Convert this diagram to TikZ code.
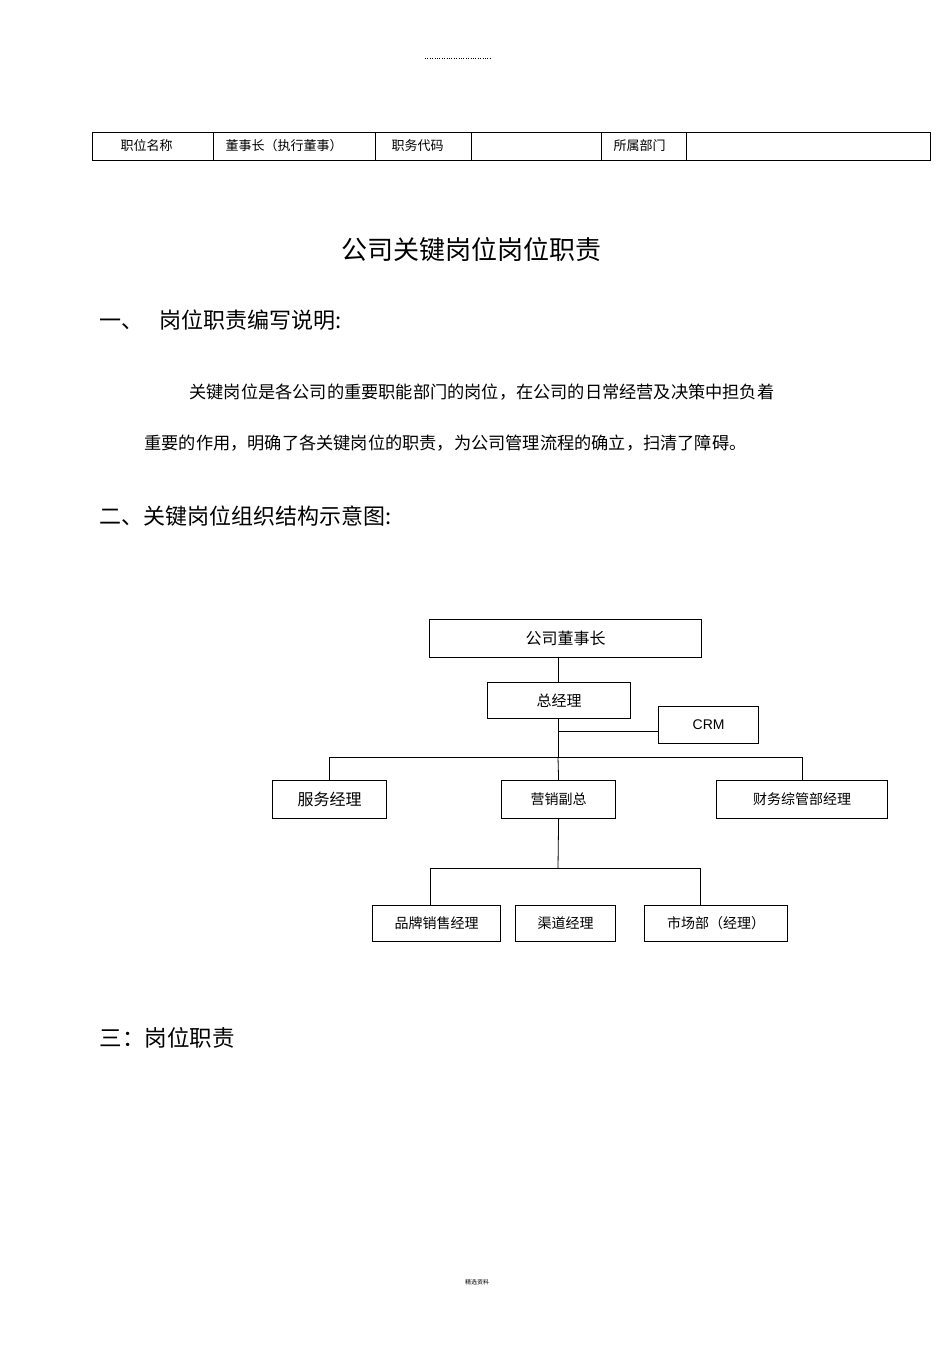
\documentclass[tikz,border=0pt]{standalone}
\usepackage{fontspec}
\setmainfont{Liberation Sans}
\newfontfamily\cjk{Noto Sans CJK SC}
\begin{document}
\begin{tikzpicture}[x=1pt,y=-1pt,
  box/.style={draw,line width=1.2pt,inner sep=0pt,anchor=north west,font=\cjk\fontsize{15}{15}\selectfont},
  ln/.style={line width=0.8pt},
  cell/.style={anchor=west,font=\cjk\fontsize{13}{13}\selectfont}]
\useasboundingbox[fill=white] (0,0) rectangle (950,1345);
\draw[dotted,line width=0.4pt] (425,58) -- (490,58);
% table
\draw[line width=0.8pt] (92,132) rectangle (930,160);
\foreach \x in {213,375,471,601,686} \draw[line width=0.8pt] (\x,132) -- (\x,160);
\node[cell] (t1) at (117,146) {职位名称};
\node[cell] (t2) at (222,146) {董事长（执行董事）};
\node[cell] (t3) at (388,146) {职务代码};
\node[cell] (t4) at (610,146) {所属部门};
\node[font=\cjk\fontsize{26}{26}\selectfont] (title) at (471,250) {公司关键岗位岗位职责};
\node[anchor=west,font=\cjk\fontsize{22}{22}\selectfont] (h1) at (96,320) {一、\hspace{16pt}岗位职责编写说明:};
\node[anchor=west,font=\cjk\fontsize{17.2}{17}\selectfont] (p1) at (186,392) {关键岗位是各公司的重要职能部门的岗位，在公司的日常经营及决策中担负着};
\node[anchor=west,font=\cjk\fontsize{17.2}{17}\selectfont] (p2) at (141,443) {重要的作用，明确了各关键岗位的职责，为公司管理流程的确立，扫清了障碍。};
\node[anchor=west,font=\cjk\fontsize{22}{22}\selectfont] (h2) at (96,516) {二、关键岗位组织结构示意图:};
\node[anchor=west,font=\cjk\fontsize{22.5}{22}\selectfont] (h3) at (96,1038) {三：岗位职责};
\node[font=\cjk\fontsize{6}{6}\selectfont] (ft) at (477,1282) {精选资料};
% chart
\node[box,minimum width=272pt,minimum height=38pt,font=\cjk\fontsize{16}{16}\selectfont] (ceo) at (429,619) {公司董事长};
\node[box,minimum width=143pt,minimum height=36pt] (gm) at (487,682) {总经理};
\node[box,minimum width=100pt,minimum height=37pt,font=\fontsize{14}{14}\selectfont] (crm) at (658,706) {CRM};
\node[box,minimum width=114pt,minimum height=38pt,font=\cjk\fontsize{16}{16}\selectfont] (fw) at (272,780) {服务经理};
\node[box,minimum width=114pt,minimum height=38pt,font=\cjk\fontsize{14}{14}\selectfont] (yx) at (501,780) {营销副总};
\node[box,minimum width=171pt,minimum height=38pt,font=\cjk\fontsize{14}{14}\selectfont] (cw) at (716,780) {财务综管部经理};
\node[box,minimum width=128pt,minimum height=36pt,font=\cjk\fontsize{14}{14}\selectfont] (pp) at (372,905) {品牌销售经理};
\node[box,minimum width=100pt,minimum height=36pt,font=\cjk\fontsize{14}{14}\selectfont] (qd) at (515,905) {渠道经理};
\node[box,minimum width=143pt,minimum height=36pt,font=\cjk\fontsize{14}{14}\selectfont] (sc) at (644,905) {市场部（经理）};
\coordinate (j1) at (558,731);
\coordinate (j2) at (558,757);
\coordinate (j3) at (558,868);
\draw[ln] (558,657) -- (558,682);
\draw[ln] (558,718) -- (j2);
\draw[ln] (j1) -- (crm.west |- j1);
\draw[ln] (fw.north) |- (j2) -| (cw.north);
\draw[ln] (j2) -- (yx.north);
\draw[ln] (yx.south) -- (j3);
\draw[ln] (430,905) |- (j3) -| (700,905);
\end{tikzpicture}
\end{document}
